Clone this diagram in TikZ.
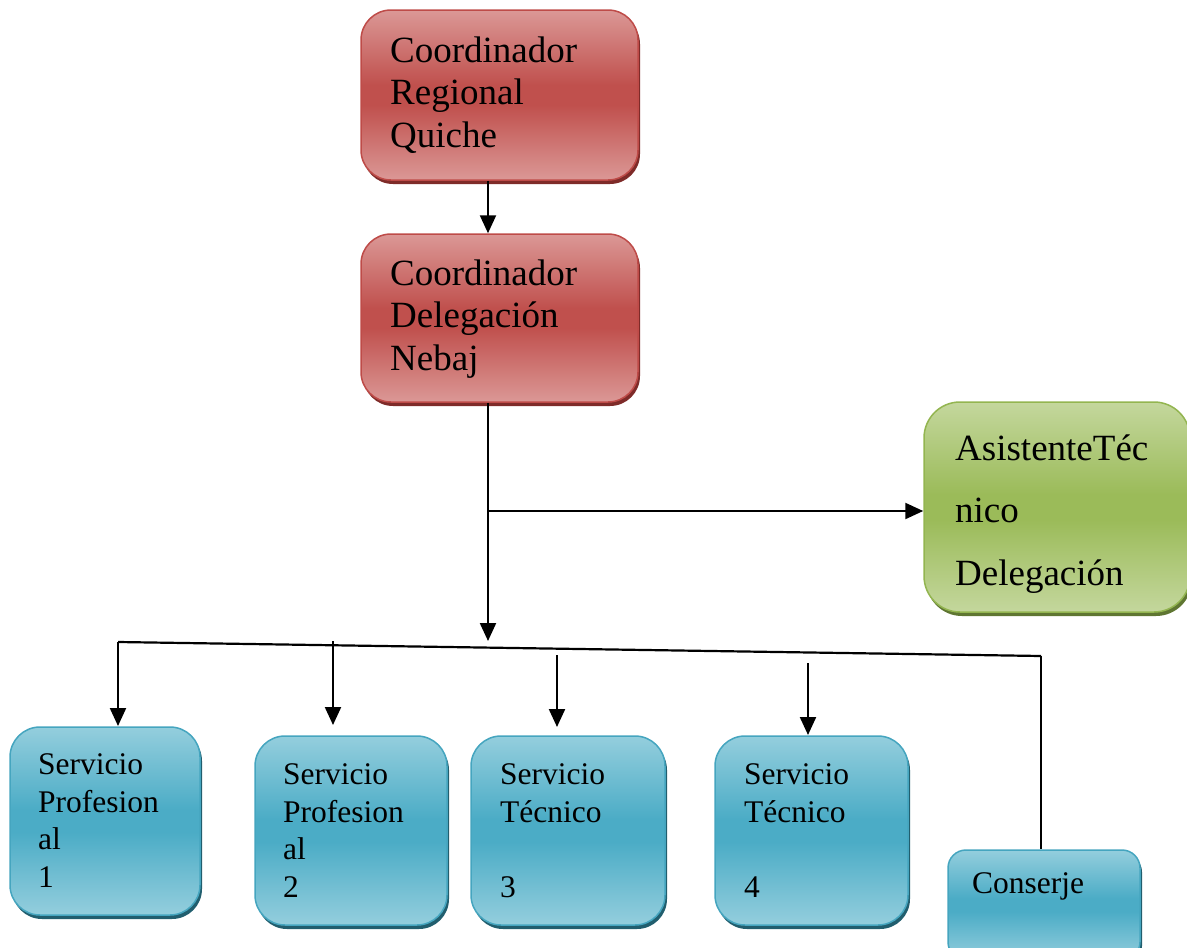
\documentclass[tikz,border=0pt]{standalone}
\usepackage{fontspec}
\setmainfont{Liberation Serif}
\usetikzlibrary{arrows.meta,shadows}
\definecolor{redL}{HTML}{DB9896}
\definecolor{redD}{HTML}{C0504D}
\definecolor{redB}{HTML}{BE4B48}
\definecolor{redS}{HTML}{7E2B29}
\definecolor{grnL}{HTML}{C4D79D}
\definecolor{grnD}{HTML}{9BBB59}
\definecolor{grnB}{HTML}{93B550}
\definecolor{grnS}{HTML}{5F7632}
\definecolor{bluL}{HTML}{94CEDD}
\definecolor{bluD}{HTML}{4BACC6}
\definecolor{bluB}{HTML}{45A5BF}
\definecolor{bluS}{HTML}{215E6E}
\pgfdeclareverticalshading{redsh}{100bp}{color(0bp)=(redL); color(25bp)=(redL); color(47bp)=(redD); color(53bp)=(redD); color(75bp)=(redL); color(100bp)=(redL)}
\pgfdeclareverticalshading{grnsh}{100bp}{color(0bp)=(grnL); color(25bp)=(grnL); color(47bp)=(grnD); color(53bp)=(grnD); color(75bp)=(grnL); color(100bp)=(grnL)}
\pgfdeclareverticalshading{blush}{100bp}{color(0bp)=(bluL); color(25bp)=(bluL); color(47bp)=(bluD); color(53bp)=(bluD); color(75bp)=(bluL); color(100bp)=(bluL)}
\tikzset{
  box/.style={rounded corners=30pt, line width=1.5pt, inner sep=0pt, shading angle=0},
  redbox/.style={box, draw=redB, shading=redsh, drop shadow={shadow xshift=2pt, shadow yshift=-4pt, fill=redS, opacity=1}},
  grnbox/.style={box, draw=grnB, shading=grnsh, drop shadow={shadow xshift=2pt, shadow yshift=-4pt, fill=grnS, opacity=1}},
  blubox/.style={box, draw=bluB, shading=blush, drop shadow={shadow xshift=2pt, shadow yshift=-4pt, fill=bluS, opacity=1}},
  bigtxt/.style={inner sep=0pt, anchor=base west, align=left, font=\fontsize{37pt}{42.5pt}\selectfont},
  grntxt/.style={inner sep=0pt, anchor=base west, align=left, font=\fontsize{37pt}{62.5pt}\selectfont},
  smltxt/.style={inner sep=0pt, anchor=base west, align=left, font=\fontsize{31.5pt}{37.5pt}\selectfont},
  arr/.style={line width=2.2pt, -{Triangle[length=18pt,width=16pt]}},
  ln/.style={line width=2.2pt}
}
\begin{document}
\begin{tikzpicture}[x=1pt,y=-1pt]
\useasboundingbox (0,0) rectangle (1187,948);
% boxes
\node[redbox, minimum width=277pt, minimum height=170pt] (r1) at (499.5,95) {};
\node[redbox, minimum width=277pt, minimum height=168pt] (r2) at (499.5,318) {};
\node[grnbox, minimum width=266pt, minimum height=210pt, rounded corners=36pt] (g) at (1057,507) {};
\node[blubox, minimum width=190pt, minimum height=188pt] (s1) at (105,821) {};
\node[blubox, minimum width=192pt, minimum height=189pt] (s2) at (351,830.5) {};
\node[blubox, minimum width=194pt, minimum height=189pt] (s3) at (568,830.5) {};
\node[blubox, minimum width=193pt, minimum height=189pt] (s4) at (811.5,830.5) {};
\node[blubox, minimum width=192pt, minimum height=110pt, rounded corners=18pt] (c) at (1044,905) {};
% texts (anchored at the baseline of the last line)
\node[bigtxt] (t1) at (390,147) {Coordinador\\Regional\\Quiche};
\node[bigtxt] (t2) at (390,370) {Coordinador\\Delegación\\Nebaj};
\node[grntxt] (tg) at (955,585) {AsistenteTéc\\nico\\Delegación};
\node[smltxt] (ts1) at (38,887) {Servicio\\Profesion\\al\\1};
\node[smltxt] (ts2) at (283,897) {Servicio\\Profesion\\al\\2};
\node[smltxt] (ts3) at (500,897) {Servicio\\Técnico\\[37.5pt]3};
\node[smltxt] (ts4) at (744,897) {Servicio\\Técnico\\[37.5pt]4};
\node[smltxt] (tc) at (972,893) {Conserje};
% connector coordinates
\coordinate (j1) at (488,511);
\coordinate (tip) at (488,641);
\coordinate (busL) at (118,642);
\coordinate (busR) at (1041,656);
\coordinate (e1) at (118,726);
\coordinate (a2) at (333,641);
\coordinate (e2) at (333,725);
\coordinate (a3) at (557,655);
\coordinate (e3) at (557,727);
\coordinate (a4) at (808,663);
\coordinate (e4) at (808,735);
% connectors
\draw[arr] (r1.south -| tip) -- (r2.north -| tip);
\draw[ln] (r2.south -| tip) -- (j1);
\draw[arr] (j1) -- (tip);
\draw[arr] (j1) -- (g.west |- j1);
\draw[ln] (busL) -- (busR);
\draw[line width=1.6pt] (busR) -- (c.north -| busR);
\draw[arr] (busL) -- (e1);
\draw[arr] (a2) -- (e2);
\draw[arr] (a3) -- (e3);
\draw[arr] (a4) -- (e4);
\end{tikzpicture}
\end{document}
